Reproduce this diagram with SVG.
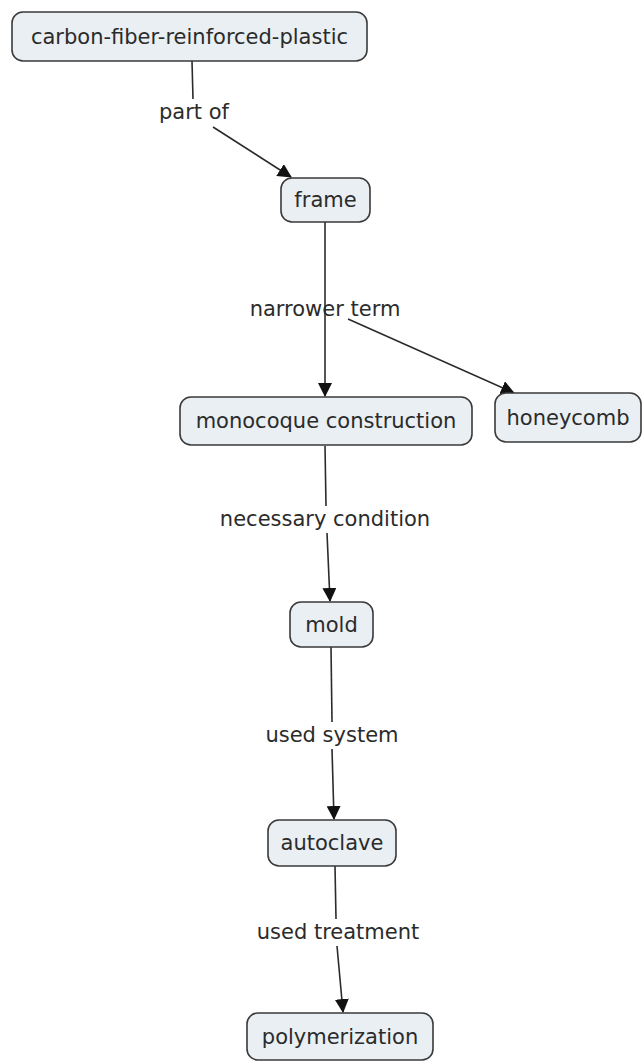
<svg xmlns="http://www.w3.org/2000/svg" width="643" height="1061" viewBox="0 0 643 1061">
  <style>
    .node rect { fill: #e9eff3; stroke: #3a3a3a; stroke-width: 1.6; }
    text { font-family: "DejaVu Sans", Verdana, sans-serif; font-size: 21px; fill: #2b2b2b; text-anchor: middle; dominant-baseline: central; }
    .edge { fill: none; stroke: #2b2b2b; stroke-width: 1.6; }
  </style>
  <defs>
    <marker id="arrow" viewBox="0 0 14 14" refX="13" refY="7" markerWidth="14" markerHeight="14" markerUnits="userSpaceOnUse" orient="auto">
      <path d="M0,0 L14,7 L0,14 Z" fill="#111"/>
    </marker>
  </defs>
  <rect width="643" height="1061" fill="#ffffff"/>

  <!-- links between concepts; each is split around its label -->
  <g id="connectors">
    <path class="edge" d="M192,61 L193,99"/>
    <path class="edge" d="M213,127 L291,177" marker-end="url(#arrow)"/>
    <path class="edge" d="M325,222 L325,396" marker-end="url(#arrow)"/>
    <path class="edge" d="M348,319 L514,393" marker-end="url(#arrow)"/>
    <path class="edge" d="M325,446 L326,506"/>
    <path class="edge" d="M327,533 L330,601" marker-end="url(#arrow)"/>
    <path class="edge" d="M331,647 L332,722"/>
    <path class="edge" d="M332,749 L334,819" marker-end="url(#arrow)"/>
    <path class="edge" d="M335,866 L336,919"/>
    <path class="edge" d="M337,946 L343,1012" marker-end="url(#arrow)"/>
  </g>

  <g id="edge-labels">
    <text x="194" y="112">part of</text>
    <text x="325" y="309">narrower term</text>
    <text x="325" y="519">necessary condition</text>
    <text x="332" y="735">used system</text>
    <text x="338" y="932">used treatment</text>
  </g>

  <g id="n-cfrp" class="node">
    <rect x="12" y="12" width="355" height="49" rx="11"/>
    <text x="189.5" y="36.5">carbon-fiber-reinforced-plastic</text>
  </g>
  <g id="n-frame" class="node">
    <rect x="281" y="178" width="89" height="44" rx="11"/>
    <text x="325.5" y="200">frame</text>
  </g>
  <g id="n-monocoque" class="node">
    <rect x="180" y="397" width="292" height="48" rx="11"/>
    <text x="326" y="421">monocoque construction</text>
  </g>
  <g id="n-honeycomb" class="node">
    <rect x="495" y="393" width="146" height="49" rx="11"/>
    <text x="568" y="418">honeycomb</text>
  </g>
  <g id="n-mold" class="node">
    <rect x="290" y="602" width="83" height="45" rx="11"/>
    <text x="331.5" y="624.5">mold</text>
  </g>
  <g id="n-autoclave" class="node">
    <rect x="268" y="820" width="128" height="46" rx="11"/>
    <text x="332" y="843">autoclave</text>
  </g>
  <g id="n-polymerization" class="node">
    <rect x="247" y="1013" width="186" height="47" rx="11"/>
    <text x="340" y="1036.5">polymerization</text>
  </g>
</svg>
